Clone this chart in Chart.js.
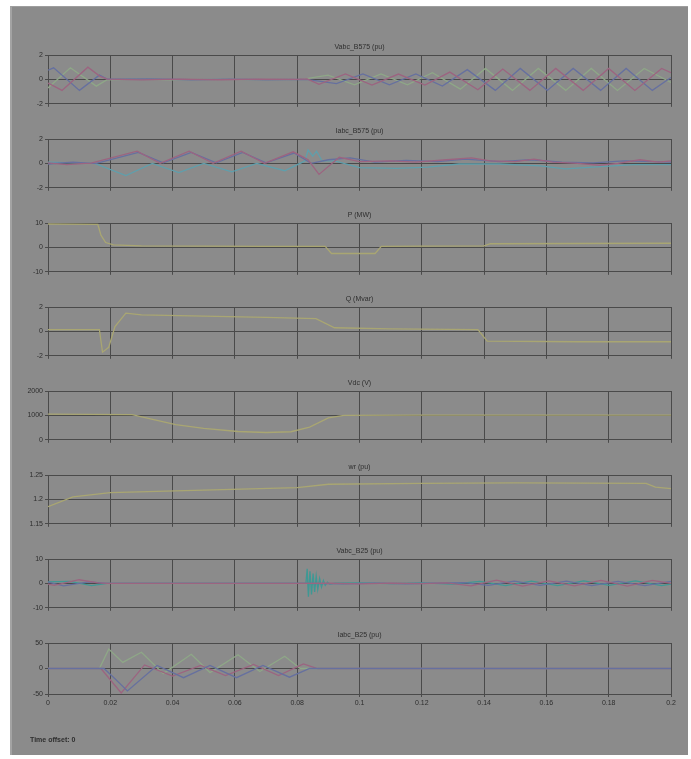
<!DOCTYPE html>
<html>
<head>
<meta charset="utf-8">
<script src="https://cdn.jsdelivr.net/npm/chart.js@4.4.1/dist/chart.umd.min.js"></script>
<style>
    body { margin: 0; background: #fff; width: 691px; height: 759px; overflow: hidden; position: relative; font-family: "Liberation Sans", Arial, sans-serif; }
    #panel { position: absolute; left: 10px; top: 6px; width: 678px; height: 749px; background: #8b8b8b; border-left: 2px solid #a3a3a3; border-top: 1px solid #9e9e9e; box-sizing: border-box; }
    #wrap { position: absolute; left: 0; top: 0; width: 691px; height: 759px; filter: blur(0.7px); }
    #wrap canvas { position: absolute; left: 0; }
    #offset { position: absolute; left: 30px; top: 736px; font-size: 7px; font-weight: bold; color: #2e2e2e; filter: blur(0.5px); }
</style>
</head>
<body>
<div id="panel"></div>
<div id="wrap"></div>
<div id="offset">Time offset: 0</div>
<script>
// time axis (s)
const xTickVals = [0, 0.02, 0.04, 0.06, 0.08, 0.1, 0.12, 0.14, 0.16, 0.18, 0.2];
const xTickLabels = ['0', '0.02', '0.04', '0.06', '0.08', '0.1', '0.12', '0.14', '0.16', '0.18', '0.2'];

// Vabc_B575 (pu) - [t, value]
const vaB575 = [[0,-0.3],[0.0045,-0.9],[0.0128,1.0],[0.0167,0.25],[0.019,0.03],[0.03,-0.04],[0.042,0.03],[0.055,-0.03],[0.068,0.03],[0.08,0],[0.0832,0.05],[0.087,-0.4],[0.0955,0.45],[0.104,-0.46],[0.1125,0.44],[0.121,-0.46],[0.129,0.6],[0.138,-0.85],[0.146,0.85],[0.1547,-0.9],[0.163,0.9],[0.1718,-0.9],[0.18,0.9],[0.1884,-0.9],[0.197,0.9],[0.2,0.55]];
const vbB575 = [[0,0.75],[0.0018,0.95],[0.0101,-0.9],[0.0165,0.35],[0.019,0.02],[0.032,0.04],[0.046,-0.03],[0.058,0.03],[0.07,-0.03],[0.083,0],[0.0926,-0.35],[0.1011,0.45],[0.1096,-0.45],[0.1181,0.45],[0.1266,-0.55],[0.1346,0.8],[0.1436,-0.9],[0.1516,0.9],[0.1603,-0.9],[0.1686,0.9],[0.1774,-0.9],[0.1856,0.9],[0.194,-0.9],[0.2,0.15]];
const vcB575 = [[0,-0.7],[0.0072,0.95],[0.0155,-0.55],[0.019,-0.03],[0.028,0.02],[0.04,-0.04],[0.052,0.03],[0.066,-0.02],[0.0815,0],[0.0899,0.35],[0.0984,-0.45],[0.1069,0.45],[0.1154,-0.45],[0.1234,0.55],[0.1324,-0.8],[0.1404,0.9],[0.1491,-0.9],[0.1574,0.9],[0.1662,-0.9],[0.1744,0.9],[0.1828,-0.9],[0.1914,0.9],[0.2,-0.25]];

// Iabc_B575 (pu)
const iaB575 = [[0,0.05],[0.006,-0.1],[0.012,0],[0.0135,0],[0.0286,1.0],[0.036,0],[0.0453,1.0],[0.053,0],[0.062,1.0],[0.0695,0],[0.0787,0.95],[0.0835,0.3],[0.087,-0.9],[0.0935,0.5],[0.1,0.15],[0.11,0.2],[0.118,0.1],[0.128,0.3],[0.136,0.45],[0.142,0.2],[0.15,0.15],[0.156,0.35],[0.162,0.1],[0.17,0.0],[0.177,-0.15],[0.183,0.0],[0.19,0.3],[0.196,0.1],[0.2,0.2]];
const ibB575 = [[0,-0.05],[0.008,0.1],[0.014,0],[0.0155,0],[0.029,0.9],[0.037,0.05],[0.046,0.9],[0.054,0.05],[0.0625,0.9],[0.07,0.05],[0.079,0.85],[0.0845,0],[0.09,0.3],[0.097,0.45],[0.105,0.1],[0.115,0.25],[0.125,0.15],[0.134,0.35],[0.145,0.15],[0.155,0.3],[0.165,0.1],[0.175,0.05],[0.185,0.2],[0.2,0.1]];
const icB575 = [[0,0.1],[0.008,0.05],[0.015,0],[0.025,-1.0],[0.0335,0],[0.042,-0.75],[0.05,0],[0.059,-0.7],[0.067,0],[0.076,-0.6],[0.0825,0.2],[0.0835,1.1],[0.085,0.6],[0.0862,1.0],[0.088,0.2],[0.092,0.2],[0.1,-0.35],[0.112,-0.4],[0.122,-0.3],[0.132,-0.05],[0.145,-0.05],[0.158,-0.2],[0.166,-0.45],[0.175,-0.3],[0.188,-0.1],[0.2,-0.1]];

// P (MW), Q (Mvar), Vdc (V), wr (pu)
const pMW = [[0,9.6],[0.016,9.4],[0.017,5],[0.0185,2],[0.021,1.0],[0.03,0.6],[0.05,0.5],[0.07,0.4],[0.089,0.4],[0.091,-2.5],[0.105,-2.5],[0.107,0.4],[0.12,0.5],[0.14,0.6],[0.142,1.5],[0.17,1.6],[0.2,1.7]];
const qMvar = [[0,0.15],[0.0165,0.15],[0.0175,-1.7],[0.0195,-1.3],[0.0215,0.4],[0.025,1.5],[0.03,1.35],[0.05,1.25],[0.07,1.15],[0.086,1.05],[0.092,0.3],[0.11,0.2],[0.138,0.15],[0.141,-0.8],[0.17,-0.85],[0.2,-0.85]];
const vdc = [[0,1050],[0.027,1030],[0.035,800],[0.041,620],[0.05,470],[0.061,340],[0.07,300],[0.078,330],[0.084,520],[0.09,900],[0.095,1000],[0.12,1010],[0.2,1010]];
const wr = [[0,1.185],[0.008,1.205],[0.02,1.214],[0.05,1.219],[0.08,1.224],[0.09,1.231],[0.12,1.233],[0.15,1.234],[0.192,1.233],[0.195,1.225],[0.2,1.222]];

// Vabc_B25 (pu)
const vaB25 = [[0,-0.3],[0.002,-0.8],[0.01,1.5],[0.016,0.2],[0.019,0],[0.083,0],[0.09,0.1],[0.1,-0.2],[0.11,0.15],[0.12,-0.1],[0.128,0.2],[0.1358,-1.0],[0.144,1.3],[0.1524,-1.1],[0.1608,1.0],[0.169,-1.0],[0.1775,1.2],[0.186,-1.1],[0.194,1.2],[0.2,0]];
const vbB25 = [[0,0.5],[0.005,-1.0],[0.013,0.6],[0.019,0],[0.083,0],[0.095,-0.2],[0.105,0.15],[0.115,-0.15],[0.125,0.1],[0.1335,0.3],[0.1414,-0.8],[0.1497,0.9],[0.158,-0.8],[0.1664,0.9],[0.1746,-0.9],[0.183,0.8],[0.1916,-0.9],[0.2,0.8]];
const vcB25 = [[0,0.6],[0.007,0.8],[0.014,-0.9],[0.019,0],[0.0828,0],[0.0832,6],[0.0836,-5.5],[0.0841,5],[0.0846,-4.5],[0.0851,4],[0.0856,-3.5],[0.0861,3],[0.0866,-2.5],[0.0872,2],[0.0878,-1.5],[0.0884,1.2],[0.089,-0.8],[0.0897,0.5],[0.0905,-0.3],[0.092,0.1],[0.1,0.2],[0.11,-0.1],[0.12,0.2],[0.13,-0.3],[0.1386,0.8],[0.1469,-0.9],[0.1552,0.9],[0.1636,-0.9],[0.172,1.0],[0.1802,-0.8],[0.1886,1.0],[0.197,-0.9],[0.2,-0.3]];

// Iabc_B25 (pu)
const iaB25 = [[0,0],[0.017,0],[0.0235,-48],[0.031,7],[0.04,-15],[0.049,6],[0.057,-14],[0.066,8],[0.074,-14],[0.082,9],[0.0865,0],[0.2,0]];
const ibB25 = [[0,0],[0.018,0],[0.0215,-20],[0.0255,-44],[0.035,6],[0.0435,-18],[0.052,6],[0.0605,-18],[0.069,6],[0.0775,-17],[0.084,0],[0.2,0]];
const icB25 = [[0,0],[0.0165,0],[0.0195,38],[0.024,12],[0.03,32],[0.037,-10],[0.046,28],[0.052,-8],[0.061,27],[0.068,-6],[0.076,24],[0.081,0],[0.2,0]];

// colours
const RED = '#9c6480', BLUE = '#66709f', GREEN = '#8ea787', CYAN = '#5f9fac', TEAL = '#3f9894', YEL = '#a9a672';
const GRID = '#4a4a4a', TXT = '#2e2e2e';

// first series is drawn on top
const panels = [
    { title: 'Vabc_B575 (pu)', yTicks: [-2, 0, 2], yLabels: ['-2', '0', '2'], series: [[vaB575, RED], [vbB575, BLUE], [vcB575, GREEN]] },
    { title: 'Iabc_B575 (pu)', yTicks: [-2, 0, 2], yLabels: ['-2', '0', '2'], series: [[iaB575, RED], [ibB575, BLUE], [icB575, CYAN]] },
    { title: 'P (MW)', yTicks: [-10, 0, 10], yLabels: ['-10', '0', '10'], series: [[pMW, YEL]] },
    { title: 'Q (Mvar)', yTicks: [-2, 0, 2], yLabels: ['-2', '0', '2'], series: [[qMvar, YEL]] },
    { title: 'Vdc (V)', yTicks: [0, 1000, 2000], yLabels: ['0', '1000', '2000'], series: [[vdc, YEL]] },
    { title: 'wr (pu)', yTicks: [1.15, 1.2, 1.25], yLabels: ['1.15', '1.2', '1.25'], series: [[wr, YEL]] },
    { title: 'Vabc_B25 (pu)', yTicks: [-10, 0, 10], yLabels: ['-10', '0', '10'], series: [[vaB25, RED], [vbB25, BLUE], [vcB25, TEAL]] },
    { title: 'Iabc_B25 (pu)', yTicks: [-50, 0, 50], yLabels: ['-50', '0', '50'], series: [[ibB25, BLUE], [iaB25, RED], [icB25, GREEN]] }
];

const wrap = document.getElementById('wrap');
const firstTop = 55, step = 84, boxH = 51, titleH = 18;
const font = { family: '"Liberation Sans", Arial, sans-serif', size: 7 };

// title above each plot area
const titlePlugin = {
    id: 'scopeTitle',
    afterDraw(chart, args, opts) {
        const { ctx, chartArea } = chart;
        ctx.save();
        ctx.fillStyle = TXT;
        ctx.font = '7px "Liberation Sans", Arial, sans-serif';
        ctx.textAlign = 'center';
        ctx.textBaseline = 'middle';
        ctx.fillText(opts.text, (chartArea.left + chartArea.right) / 2, chartArea.top - 8);
        ctx.restore();
    }
};

panels.forEach((p, i) => {
    const last = i === panels.length - 1;
    const axisH = last ? 16 : 4;
    const cv = document.createElement('canvas');
    cv.width = 691;
    cv.height = titleH + boxH + axisH;
    cv.style.top = (firstTop + i * step - titleH) + 'px';
    wrap.appendChild(cv);

    new Chart(cv, {
        type: 'line',
        data: {
            datasets: p.series.map(([pts, color]) => ({
                data: pts.map(([x, y]) => ({ x, y })),
                borderColor: color,
                borderWidth: 1.3,
                pointRadius: 0,
                tension: 0,
                fill: false
            }))
        },
        options: {
            responsive: false,
            animation: false,
            devicePixelRatio: 1,
            layout: { padding: { left: 0, right: 20, top: titleH, bottom: 0 } },
            plugins: {
                legend: { display: false },
                tooltip: { enabled: false },
                scopeTitle: { text: p.title }
            },
            scales: {
                x: {
                    type: 'linear', min: 0, max: 0.2,
                    afterBuildTicks: s => { s.ticks = xTickVals.map(v => ({ value: v })); },
                    afterFit: s => { s.height = axisH; },
                    ticks: { display: last, color: TXT, font, padding: 2, maxRotation: 0, autoSkip: false, callback: (v, idx) => xTickLabels[idx] },
                    grid: { color: GRID, tickLength: 3 },
                    border: { color: GRID }
                },
                y: {
                    min: p.yTicks[0], max: p.yTicks[2],
                    afterBuildTicks: s => { s.ticks = p.yTicks.map(v => ({ value: v })); },
                    afterFit: s => { s.width = 48; },
                    ticks: { color: TXT, font, padding: 2, callback: (v, idx) => p.yLabels[idx] },
                    grid: { color: GRID, tickLength: 3 },
                    border: { color: GRID }
                }
            }
        },
        plugins: [titlePlugin]
    });
});
</script>
</body>
</html>
